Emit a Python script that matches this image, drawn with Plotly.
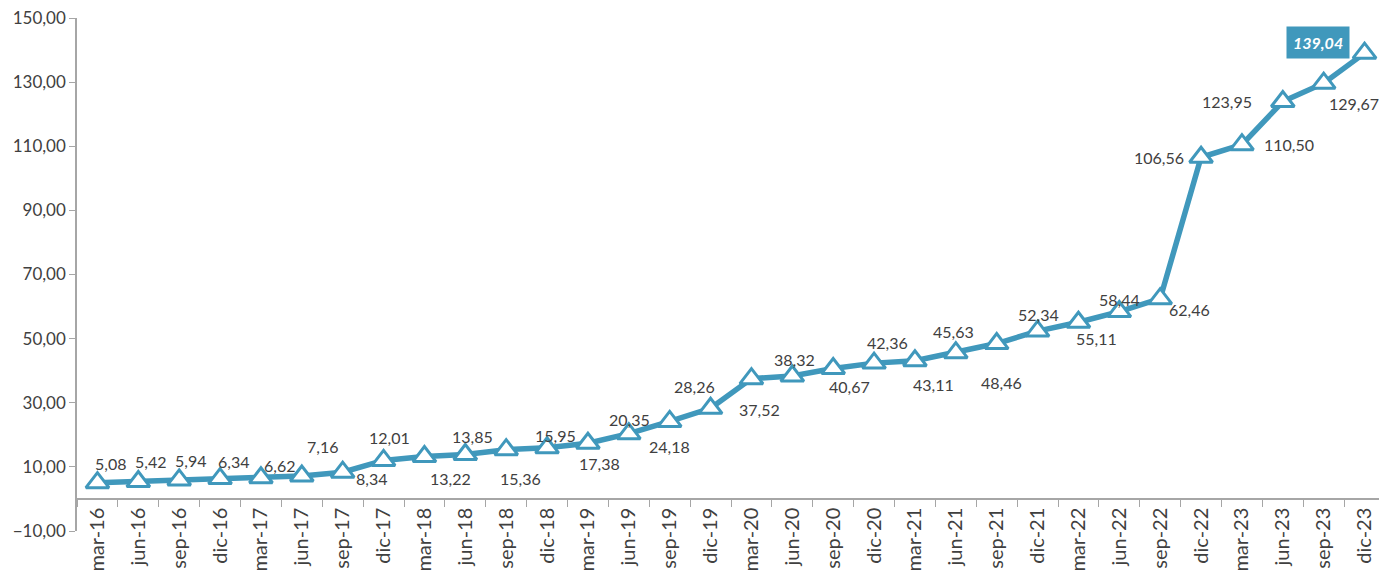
import plotly.graph_objects as go

categories = ["mar-16","jun-16","sep-16","dic-16","mar-17","jun-17","sep-17","dic-17",
              "mar-18","jun-18","sep-18","dic-18","mar-19","jun-19","sep-19","dic-19",
              "mar-20","jun-20","sep-20","dic-20","mar-21","jun-21","sep-21","dic-21",
              "mar-22","jun-22","sep-22","dic-22","mar-23","jun-23","sep-23","dic-23"]
values = [5.08, 5.42, 5.94, 6.34, 6.62, 7.16, 8.34, 12.01,
          13.22, 13.85, 15.36, 15.95, 17.38, 20.35, 24.18, 28.26,
          37.52, 38.32, 40.67, 42.36, 43.11, 45.63, 48.46, 52.34,
          55.11, 58.44, 62.46, 106.56, 110.50, 123.95, 129.67, 139.04]

# label offsets in pixels (style only)
label_dx = [13, 12, 11, 13, 19, 21, 29, 6, 26, 7, 14, 8, 12, 1, 0, -16,
            8, 2, 16, 13, 19, -2, 5, 1, 18, 0, 29, -42, 47, -56, 30, -47]
label_dy = [-19, -20, -19, -17, -12, -29, 6, -23, 22, -18, 29, -12, 20, -14, 25, -22,
            31, -17, 18, -21, 24, -21, 39, -17, 16, -12, 11, 0, 0, 0, 20, -11]

BLUE = "#4098BC"
FONT = "Lato"

def fmt(v):
    return f"{v:.2f}".replace(".", ",")

fig = go.Figure()
fig.add_trace(go.Scatter(
    x=categories, y=values, mode="lines+markers",
    line=dict(color=BLUE, width=5.5),
    marker=dict(symbol="triangle-up", size=20, color="white",
                line=dict(color=BLUE, width=3)),
    hoverinfo="skip", showlegend=False,
))

annotations = []
n = len(values)
for i, (c, v) in enumerate(zip(categories, values)):
    last = i == n - 1
    annotations.append(dict(
        x=c, y=v, xref="x", yref="y", showarrow=False,
        text=f"<b><i>{fmt(v)}</i></b>" if last else fmt(v),
        xshift=label_dx[i], yshift=-label_dy[i],
        font=dict(family=FONT, size=16, color="white" if last else "#404040"),
        bgcolor=BLUE if last else None,
        borderpad=6 if last else 0,
    ))

fig.update_layout(
    width=1387, height=575,
    margin=dict(l=69, r=10, t=10, b=52),
    paper_bgcolor="white", plot_bgcolor="white",
    separators=",.",
    annotations=annotations,
    font=dict(family=FONT, size=16, color="#404040"),
    xaxis=dict(
        type="category", range=[-0.5, n - 0.5],
        anchor="free", position=10 / 160, automargin=False,
        showline=True, linecolor="#a6a6a6", linewidth=1.5,
        ticks="outside", tickson="boundaries", ticklen=7, tickcolor="#a6a6a6",
        tickangle=-90, showgrid=False, zeroline=False,
        ticklabeloverflow="allow",
        tickfont=dict(family=FONT, size=20, color="#404040"),
    ),
    yaxis=dict(
        range=[-10, 150], tickvals=[-10, 10, 30, 50, 70, 90, 110, 130, 150],
        tickformat=".2f", automargin=False,
        showline=True, linecolor="#a6a6a6", linewidth=1.5,
        ticks="outside", ticklen=6, tickcolor="#a6a6a6",
        showgrid=False, zeroline=False,
        ticklabeloverflow="allow",
        tickfont=dict(family=FONT, size=17, color="#404040"),
    ),
)

fig.write_html("out.html")
